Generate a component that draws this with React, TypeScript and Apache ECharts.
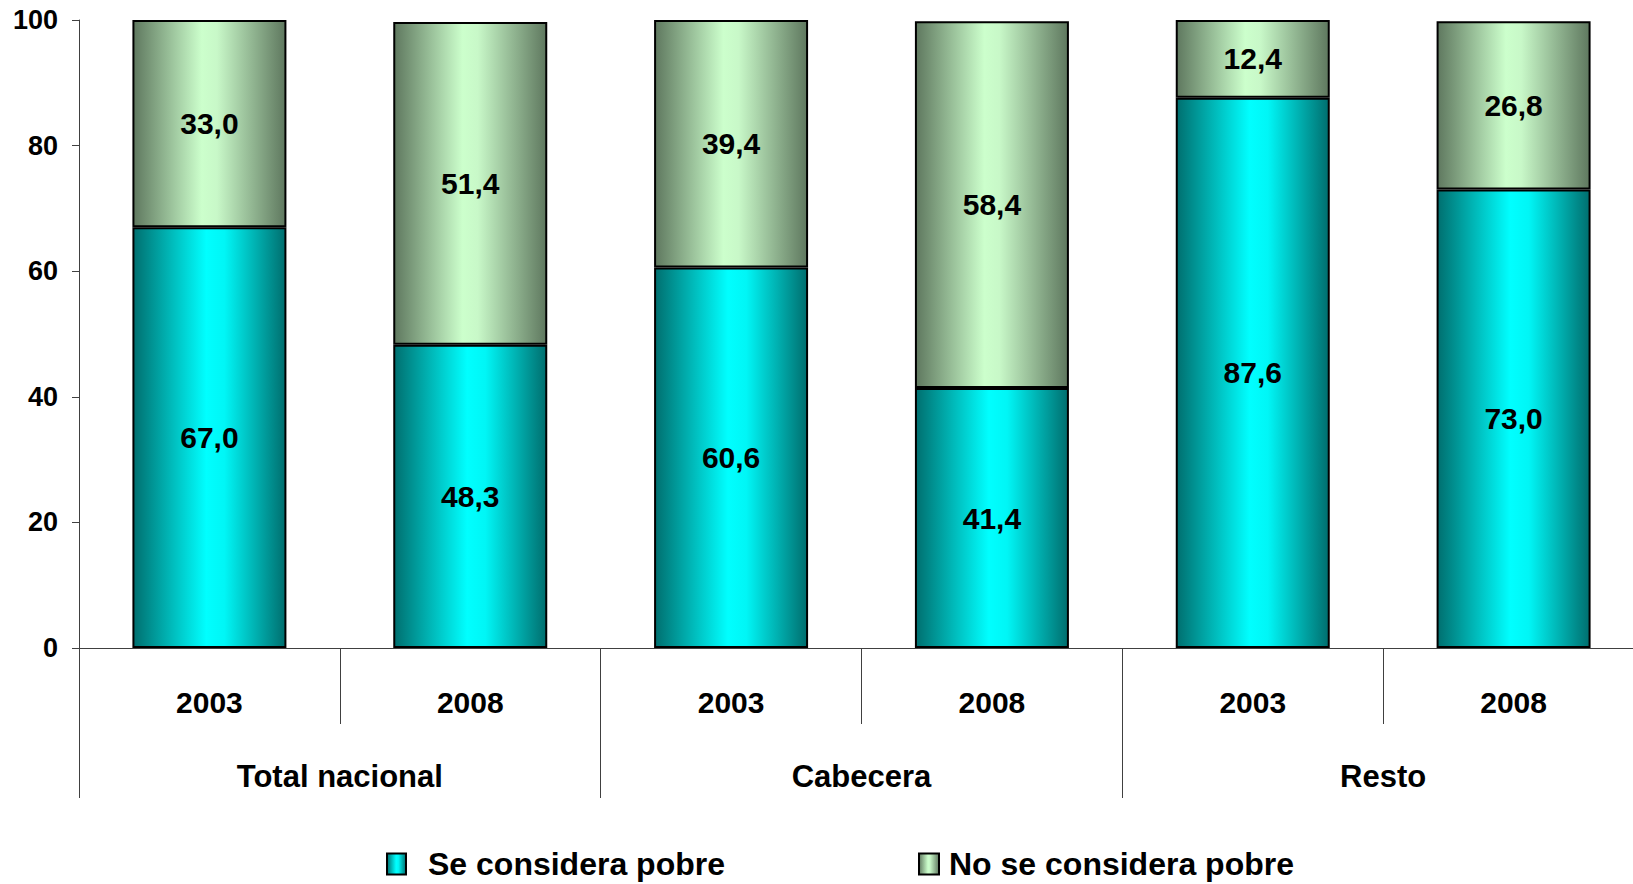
import React, { useEffect, useRef } from "react";
import * as echarts from "echarts";

const years = ["2003", "2008", "2003", "2008", "2003", "2008"];
const groups = ["Total nacional", "Cabecera", "Resto"];
const sePobre = [67.0, 48.3, 60.6, 41.4, 87.6, 73.0];
const noPobre = [33.0, 51.4, 39.4, 58.4, 12.4, 26.8];
const yTicks = { min: 0, max: 100, interval: 20 };

const FONT = "'Liberation Sans', Arial, Helvetica, sans-serif";

const cyanGrad = new echarts.graphic.LinearGradient(0, 0, 1, 0, [
  { offset: 0, color: "#006f6f" },
  { offset: 0.48, color: "#00ffff" },
  { offset: 0.6, color: "#00f6f6" },
  { offset: 1, color: "#006e6e" },
]);
const greenGrad = new echarts.graphic.LinearGradient(0, 0, 1, 0, [
  { offset: 0, color: "#5f785f" },
  { offset: 0.45, color: "#ccffcc" },
  { offset: 0.55, color: "#c8f8c8" },
  { offset: 1, color: "#5f785f" },
]);

const fmt = (p: any) => Number(p.value).toFixed(1).replace(".", ",");

export default function App() {
  const ref = useRef<HTMLDivElement>(null);
  useEffect(() => {
    if (!ref.current) return;
    document.documentElement.style.overflow = "hidden";
    document.body.style.overflow = "hidden";
    document.body.style.margin = "0";
    const chart = echarts.init(ref.current, null, { renderer: "svg" });
    const labelStyle = {
      show: true,
      position: "inside",
      formatter: fmt,
      color: "#000",
      fontFamily: FONT,
      fontWeight: "bold",
      fontSize: 30,
    };
    chart.setOption({
      animation: false,
      backgroundColor: "#ffffff",
      textStyle: { fontFamily: FONT },
      grid: { left: 79, top: 20, height: 628, width: 1565, containLabel: false },
      legend: [
        {
          data: ["Se considera pobre"],
          left: 386,
          top: 848,
          icon: "rect",
          itemWidth: 19,
          itemHeight: 21,
          padding: 0,
          textStyle: {
            fontFamily: FONT,
            fontWeight: "bold",
            fontSize: 32,
            color: "#000",
            padding: [0, 0, 0, 17],
          },
        },
        {
          data: ["No se considera pobre"],
          left: 918,
          top: 848,
          icon: "rect",
          itemWidth: 20,
          itemHeight: 21,
          padding: 0,
          textStyle: {
            fontFamily: FONT,
            fontWeight: "bold",
            fontSize: 32,
            color: "#000",
            padding: [0, 0, 0, 5],
          },
        },
      ],
      xAxis: [
        {
          type: "category",
          data: years,
          position: "bottom",
          axisLine: { show: true, lineStyle: { color: "#404040", width: 1 } },
          axisTick: {
            show: true,
            alignWithLabel: false,
            interval: 0,
            length: 76,
            lineStyle: { color: "#404040", width: 1 },
          },
          axisLabel: {
            interval: 0,
            margin: 39,
            color: "#000",
            fontFamily: FONT,
            fontWeight: "bold",
            fontSize: 30,
          },
        },
        {
          type: "category",
          data: groups,
          position: "bottom",
          axisLine: { show: false },
          axisTick: {
            show: true,
            alignWithLabel: false,
            interval: 0,
            length: 150,
            lineStyle: { color: "#404040", width: 1 },
          },
          axisLabel: {
            interval: 0,
            margin: 113,
            color: "#000",
            fontFamily: FONT,
            fontWeight: "bold",
            fontSize: 31,
          },
        },
      ],
      yAxis: {
        type: "value",
        min: yTicks.min,
        max: yTicks.max,
        interval: yTicks.interval,
        splitLine: { show: false },
        axisLine: { show: true, lineStyle: { color: "#404040", width: 1 } },
        axisTick: { show: true, inside: false, length: 7, lineStyle: { color: "#404040" } },
        axisLabel: {
          margin: 21,
          color: "#000",
          fontFamily: FONT,
          fontWeight: "bold",
          fontSize: 27,
        },
      },
      series: [
        {
          name: "Se considera pobre",
          type: "bar",
          stack: "total",
          xAxisIndex: 0,
          barWidth: 154,
          data: sePobre,
          itemStyle: { color: cyanGrad, borderColor: "#000", borderWidth: 2 },
          label: labelStyle,
        },
        {
          name: "No se considera pobre",
          type: "bar",
          stack: "total",
          xAxisIndex: 0,
          barWidth: 154,
          data: noPobre,
          itemStyle: { color: greenGrad, borderColor: "#000", borderWidth: 2 },
          label: labelStyle,
        },
      ],
    });
    return () => chart.dispose();
  }, []);
  return (
    <div
      ref={ref}
      style={{ position: "fixed", left: 0, top: 0, width: 1660, height: 884 }}
    />
  );
}
